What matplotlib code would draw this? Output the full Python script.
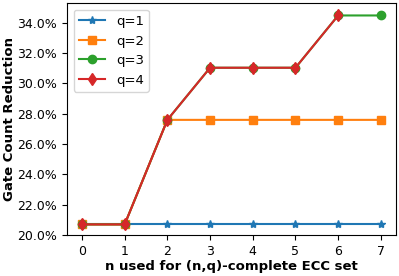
import matplotlib
matplotlib.use("Agg")
import matplotlib.pyplot as plt
from matplotlib.ticker import PercentFormatter

n_vals = [0, 1, 2, 3, 4, 5, 6, 7]
q1 = [0.2069, 0.2069, 0.2069, 0.2069, 0.2069, 0.2069, 0.2069, 0.2069]
q2 = [0.2069, 0.2069, 0.2759, 0.2759, 0.2759, 0.2759, 0.2759, 0.2759]
q3 = [0.2069, 0.2069, 0.2759, 0.3103, 0.3103, 0.3103, 0.3448, 0.3448]
q4 = [0.2069, 0.2069, 0.2759, 0.3103, 0.3103, 0.3103, 0.3448]

fig, ax = plt.subplots(figsize=(3.99, 2.76), dpi=100)
ax.plot(n_vals, q1, '-*', label='q=1')
ax.plot(n_vals, q2, '-s', label='q=2')
ax.plot(n_vals, q3, '-o', label='q=3')
ax.plot(n_vals[:len(q4)], q4, '-d', label='q=4')

ax.set_ylim(0.20, 0.353)
ax.set_xticks(n_vals)
ax.yaxis.set_major_formatter(PercentFormatter(1.0, decimals=1))
ax.tick_params(labelsize=9)
ax.set_xlabel('n used for (n,q)-complete ECC set', fontweight='bold', fontsize=9.5, labelpad=1.5)
ax.set_ylabel('Gate Count Reduction', fontweight='bold', fontsize=9.5, labelpad=1)
ax.legend(loc='upper left', fontsize=9.5)
fig.subplots_adjust(left=0.168, right=0.992, top=0.989, bottom=0.149)
fig.savefig('out.png')
